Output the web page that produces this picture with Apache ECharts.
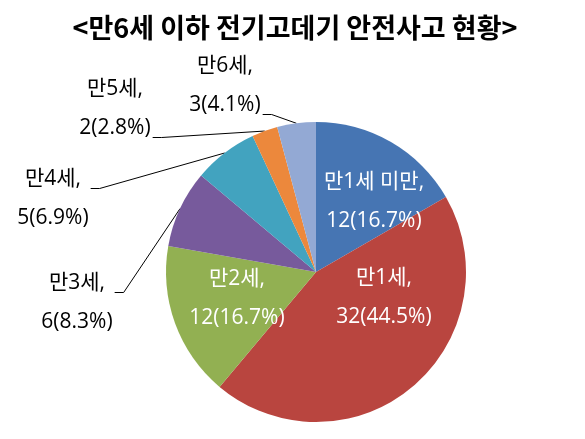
<!DOCTYPE html>
<html>
<head>
<meta charset="utf-8">
<script src="https://cdn.jsdelivr.net/npm/echarts@6/dist/echarts.min.js"></script>
<style>
html,body{margin:0;padding:0;background:#fff;}
#chart{width:585px;height:439px;}
</style>
</head>
<body>
<div id="chart"></div>
<script>
var categories = ['만1세 미만', '만1세', '만2세', '만3세', '만4세', '만5세', '만6세'];
var counts = [12, 32, 12, 6, 5, 2, 3];
var pctLabels = ['16.7%', '44.5%', '16.7%', '8.3%', '6.9%', '2.8%', '4.1%'];

var colors = ['#4675B3', '#B9453F', '#92B052', '#775A9C', '#42A3BF', '#EC883C', '#93A9D4'];
// label block centre [x, y], placement, line of the label the leader attaches to
var labelPos = [
  [374, 202, 'inside', 0],
  [384, 298, 'inside', 0],
  [237, 299, 'inside', 0],
  [77, 303, 'outside', 0],
  [53, 199, 'outside', 0],
  [115, 109, 'outside', 1],
  [225, 86, 'outside', 1]
];
var LINE_H = 39;

var FONT = '"Open Sans", "Noto Sans CJK KR", sans-serif';
var chart = echarts.init(document.getElementById('chart'));
chart.setOption({
  animation: false,
  backgroundColor: '#fff',
  title: {
    text: '<만6세 이하 전기고데기 안전사고 현황>',
    left: 290,
    textAlign: 'center',
    top: 9,
    textStyle: { fontFamily: '"Noto Sans CJK KR", sans-serif', fontSize: 27, fontWeight: 'bold', color: '#000' }
  },
  series: [{
    type: 'pie',
    center: [316, 272],
    radius: 150,
    startAngle: 90,
    clockwise: true,
    avoidLabelOverlap: false,
    itemStyle: { borderWidth: 0 },
    data: categories.map(function (c, i) {
      var inside = labelPos[i][2] === 'inside';
      return {
        name: c,
        value: counts[i],
        itemStyle: { color: colors[i] },
        label: { color: inside ? '#fff' : '#000' },
        labelLine: { show: !inside }
      };
    }),
    label: {
      show: true,
      position: 'outside',
      fontFamily: FONT,
      fontSize: 21,
      lineHeight: LINE_H,
      align: 'center',
      formatter: function (p) {
        return p.name + ',\n' + p.value + '(' + pctLabels[p.dataIndex] + ')';
      }
    },
    labelLine: {
      show: true,
      lineStyle: { color: '#000', width: 1 },
      length: 10,
      length2: 10
    },
    labelLayout: function (params) {
      var lp = labelPos[params.dataIndex];
      var out = { x: lp[0], y: lp[1], align: 'center', verticalAlign: 'middle' };
      if (lp[2] === 'outside' && params.labelLinePoints) {
        var edge = params.labelLinePoints[0];
        var w = params.labelRect.width;
        var endX = lp[0] + w / 2 + 2;
        var endY = lp[1] - LINE_H / 2 + lp[3] * LINE_H + 9;
        out.labelLinePoints = [edge, [endX + 9, endY], [endX, endY]];
      }
      return out;
    }
  }]
});
</script>
</body>
</html>
